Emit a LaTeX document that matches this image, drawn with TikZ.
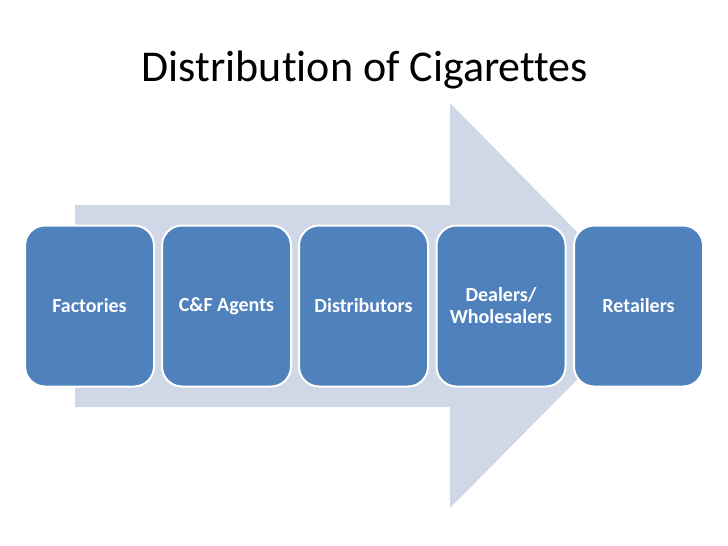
\documentclass[tikz,border=0pt]{standalone}
\usepackage{fontspec}
\setmainfont{Carlito}[Ligatures=NoCommon]
\definecolor{boxblue}{HTML}{4F81BD}
\definecolor{arrowgrey}{HTML}{D0D8E8}
\begin{document}
\begin{tikzpicture}[x=1pt,y=-1pt,
  stagebox/.style={draw=white, line width=2pt, fill=boxblue, rounded corners=20pt,
    minimum width=129pt, minimum height=161pt, text=white, align=center,
    font=\fontsize{20}{22}\selectfont\bfseries, inner sep=0pt},
  titletext/.style={font=\fontsize{44}{50}\selectfont, text=black}]
\useasboundingbox (0,0) rectangle (728,546);
\fill[white] (0,0) rectangle (728,546);
\node[titletext] (title) at (365,70) {Distribution of Cigarettes};
\fill[arrowgrey] (75,205) -- (450,205) -- (450,103) -- (650,306) -- (450,508) -- (450,407) -- (75,407) -- cycle;
\node[stagebox] (f) at (89.5,306) {Factories};
\node[stagebox] (c) at (226.5,306) {C\&F Agents};
\node[stagebox] (d) at (363.5,306) {Distributors};
\node[stagebox] (w) at (501,306) {Dealers/\\Wholesalers};
\node[stagebox] (r) at (638.5,306) {Retailers};
\end{tikzpicture}
\end{document}
